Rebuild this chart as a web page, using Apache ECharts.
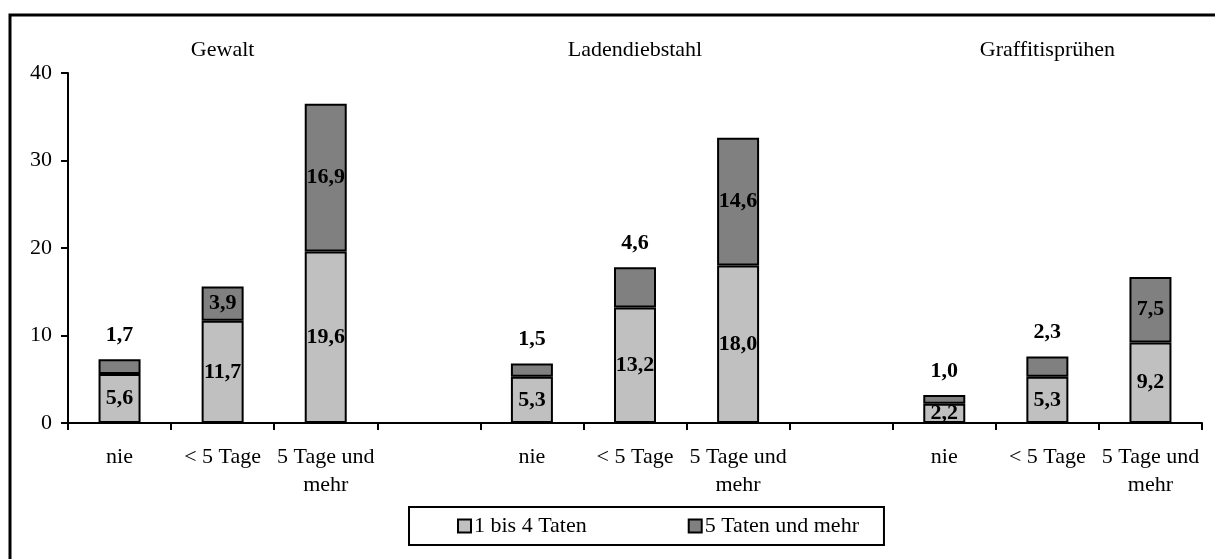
<!DOCTYPE html>
<html>
<head>
<meta charset="utf-8">
<script src="https://cdn.jsdelivr.net/npm/echarts@6/dist/echarts.min.js"></script>
<style>
html,body{margin:0;padding:0;background:#fff;}
#chart{width:1215px;height:559px;}
</style>
</head>
<body>
<div id="chart"></div>
<script>
// ---- data ----
const categories = ['nie', '< 5 Tage', '5 Tage und\nmehr', '', 'nie', '< 5 Tage', '5 Tage und\nmehr', '', 'nie', '< 5 Tage', '5 Tage und\nmehr'];
const groupLabels = ['', 'Gewalt', '', '', '', 'Ladendiebstahl', '', '', '', 'Graffitisprühen', ''];
const seriesNames = ['1 bis 4 Taten', '5 Taten und mehr'];
const taten1bis4 = [5.6, 11.7, 19.6, null, 5.3, 13.2, 18.0, null, 2.2, 5.3, 9.2];
const taten5mehr = [1.7, 3.9, 16.9, null, 1.5, 4.6, 14.6, null, 1.0, 2.3, 7.5];
const yTicks = { min: 0, max: 40, interval: 10 };

// labels of the upper segment drawn above the bar at these categories
const labelAboveIdx = [0, 4, 5, 8, 9];

const FONT = 'Liberation Serif';
const fmt = p => p.value == null ? '' : p.value.toFixed(1).replace('.', ',');

const chart = echarts.init(document.getElementById('chart'));
chart.setOption({
  backgroundColor: '#fff',
  animation: false,
  textStyle: { fontFamily: FONT, color: '#000' },
  grid: { left: 68, right: 13, top: 73, bottom: 136, containLabel: false },
  xAxis: [{
    type: 'category',
    data: categories,
    position: 'bottom',
    axisLine: { lineStyle: { color: '#000', width: 2 } },
    axisTick: { show: true, interval: 0, length: 7, lineStyle: { color: '#000', width: 2 } },
    axisLabel: { interval: 0, margin: 20, color: '#000', fontFamily: FONT, fontSize: 22, lineHeight: 28 }
  }, {
    type: 'category',
    data: groupLabels,
    position: 'top',
    axisLine: { show: false },
    axisTick: { show: false },
    axisLabel: { interval: 0, margin: 12, color: '#000', fontFamily: FONT, fontSize: 22 }
  }],
  yAxis: {
    type: 'value',
    min: yTicks.min, max: yTicks.max, interval: yTicks.interval,
    splitLine: { show: false },
    axisLine: { show: true, lineStyle: { color: '#000', width: 2 } },
    axisTick: { show: true, length: 7, lineStyle: { color: '#000', width: 2 } },
    axisLabel: { margin: 16, color: '#000', fontFamily: FONT, fontSize: 22 }
  },
  legend: {
    left: 409, top: 507,
    padding: [8, 25, 8, 48],
    itemGap: 101,
    itemWidth: 13, itemHeight: 13,
    borderColor: '#000', borderWidth: 2,
    icon: 'rect',
    textStyle: { fontFamily: FONT, fontSize: 22, color: '#000', padding: [0, 0, 0, -2] },
    data: seriesNames
  },
  series: [{
    name: seriesNames[0],
    type: 'bar',
    stack: 'total',
    barWidth: 42,
    data: taten1bis4,
    itemStyle: { color: '#C0C0C0', borderColor: '#000', borderWidth: 2 },
    label: { show: true, position: 'inside', formatter: fmt, fontFamily: FONT, fontWeight: 'bold', fontSize: 22, color: '#000' }
  }, {
    name: seriesNames[1],
    type: 'bar',
    stack: 'total',
    barWidth: 42,
    data: taten5mehr.map((v, i) => ({
      value: v,
      label: labelAboveIdx.includes(i) ? { position: 'top', distance: 13 } : { position: 'inside' }
    })),
    itemStyle: { color: '#808080', borderColor: '#000', borderWidth: 2 },
    label: { show: true, formatter: fmt, fontFamily: FONT, fontWeight: 'bold', fontSize: 22, color: '#000' }
  }],
  graphic: [{
    type: 'polyline',
    silent: true,
    shape: { points: [[10, 559], [10, 15], [1215, 15]] },
    style: { stroke: '#000', lineWidth: 3, fill: null }
  }]
});
</script>
</body>
</html>
